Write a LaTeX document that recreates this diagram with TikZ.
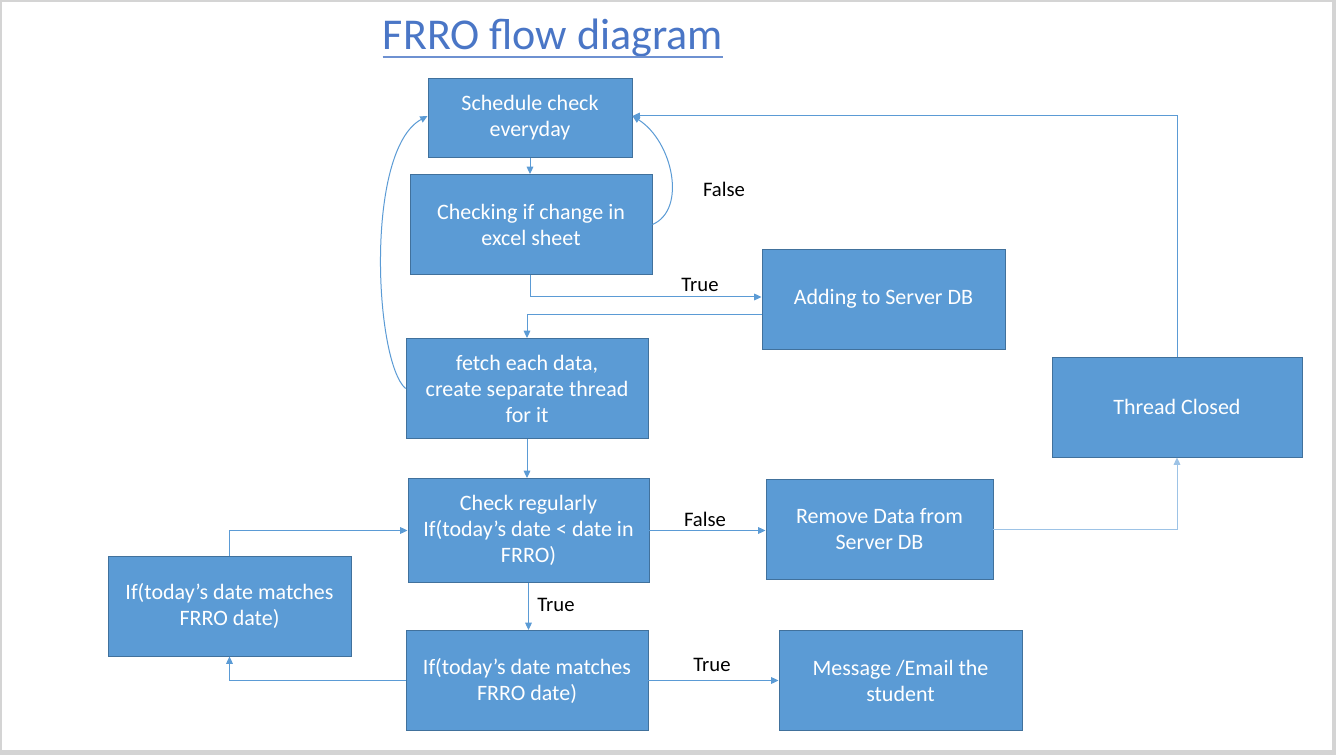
\documentclass[tikz,border=0pt]{standalone}
\usepackage{fontspec}
\setmainfont{Carlito}
\usetikzlibrary{arrows.meta,calc}
\definecolor{boxfill}{HTML}{5B9BD5}
\definecolor{boxline}{HTML}{41719C}
\definecolor{conn}{HTML}{5B9BD5}
\definecolor{connlight}{HTML}{9DC3E6}
\definecolor{titleblue}{HTML}{4A76C6}
\definecolor{frame}{HTML}{D4D4D4}
\begin{document}
\begin{tikzpicture}[x=0.75pt,y=-0.75pt,
  box/.style={draw=boxline, line width=0.7pt, fill=boxfill, text=white, align=center, inner sep=0pt,
    font=\fontsize{16.5}{19.5}\selectfont},
  lbl/.style={text=black, inner sep=0pt, font=\fontsize{15.5}{18}\selectfont},
  arr/.style={draw=conn, line width=0.75pt, -{Triangle[length=5.5pt,width=5pt]}}]
\useasboundingbox (0,0) rectangle (1336,755);
\fill[frame] (0,0) rectangle (1336,755);
\fill[white] (2,2) rectangle (1332,750);
% title
\node[anchor=base, text=titleblue, inner sep=0pt, font=\fontsize{33}{36}\selectfont] (title) at (553,50) {FRRO flow diagram};
\draw[titleblue!80, line width=1.5pt] (title.base west) ++(0,7) coordinate (ul1) -- ($(title.base east)+(0,7)$) coordinate (ul2);
% boxes
\node[box, minimum width=153pt, minimum height=59.25pt] (sched) at (530,118) {Schedule check\\everyday};
\node[box, minimum width=181.5pt, minimum height=75pt] (chk) at (531,224.5) {Checking if change in\\excel sheet};
\node[box, minimum width=182.25pt, minimum height=75pt] (add) at (883.5,299) {Adding to Server DB};
\node[box, minimum width=181.5pt, minimum height=75pt] (fetch) at (527,388.5) {fetch each data,\\create separate thread\\for it};
\node[box, minimum width=187.5pt, minimum height=75pt] (thr) at (1177,407) {Thread Closed};
\node[box, minimum width=180.75pt, minimum height=78pt] (reg) at (528.5,530.5) {Check regularly\\If(today’s date < date in\\FRRO)};
\node[box, minimum width=170.25pt, minimum height=75pt] (rem) at (879.5,529.5) {Remove Data from\\Server DB};
\node[box, minimum width=182.25pt, minimum height=75pt] (ifl) at (229.5,606) {If(today’s date matches\\FRRO date)};
\node[box, minimum width=181.5pt, minimum height=75pt] (ifb) at (527,680.5) {If(today’s date matches\\FRRO date)};
\node[box, minimum width=182.25pt, minimum height=75pt] (msg) at (900.5,680.5) {Message /Email the\\student};
% labels
\node[lbl] (lf1) at (724,189) {False};
\node[lbl] (lt1) at (700,285) {True};
\node[lbl] (lf2) at (705,519) {False};
\node[lbl] (lt2) at (556,605) {True};
\node[lbl] (lt3) at (712,665) {True};
% connectors
\draw[arr] (sched.south) -- (sched.south |- chk.north);
\draw[arr] (chk.east) .. controls +(35,-15) and +(40,25) .. ($(sched.east)+(0,-2)$);
\draw[arr] ($(chk.south)+(-1,0)$) |- ($(add.west)+(0,-2)$);
\draw[arr] ($(add.west)+(0,16)$) -| (fetch.north);
\draw[arr] (fetch.west) .. controls +(-31,-27) and +(-63,34) .. ($(sched.west)+(0,-2)$);
\draw[arr] (fetch.south) -- (fetch.south |- reg.north);
\draw[arr] (reg.east) -- (rem.west |- reg.east);
\draw[arr, draw=connlight] (rem.east) -| (thr.south);
\draw[arr] (thr.north) |- ($(sched.east)+(0,-2)$);
\draw[arr] (reg.south) -- (reg.south |- ifb.north);
\draw[arr] (ifb.west) -| (ifl.south);
\draw[arr] (ifl.north) |- (reg.west);
\draw[arr] (ifb.east) -- (msg.west);
\end{tikzpicture}
\end{document}
